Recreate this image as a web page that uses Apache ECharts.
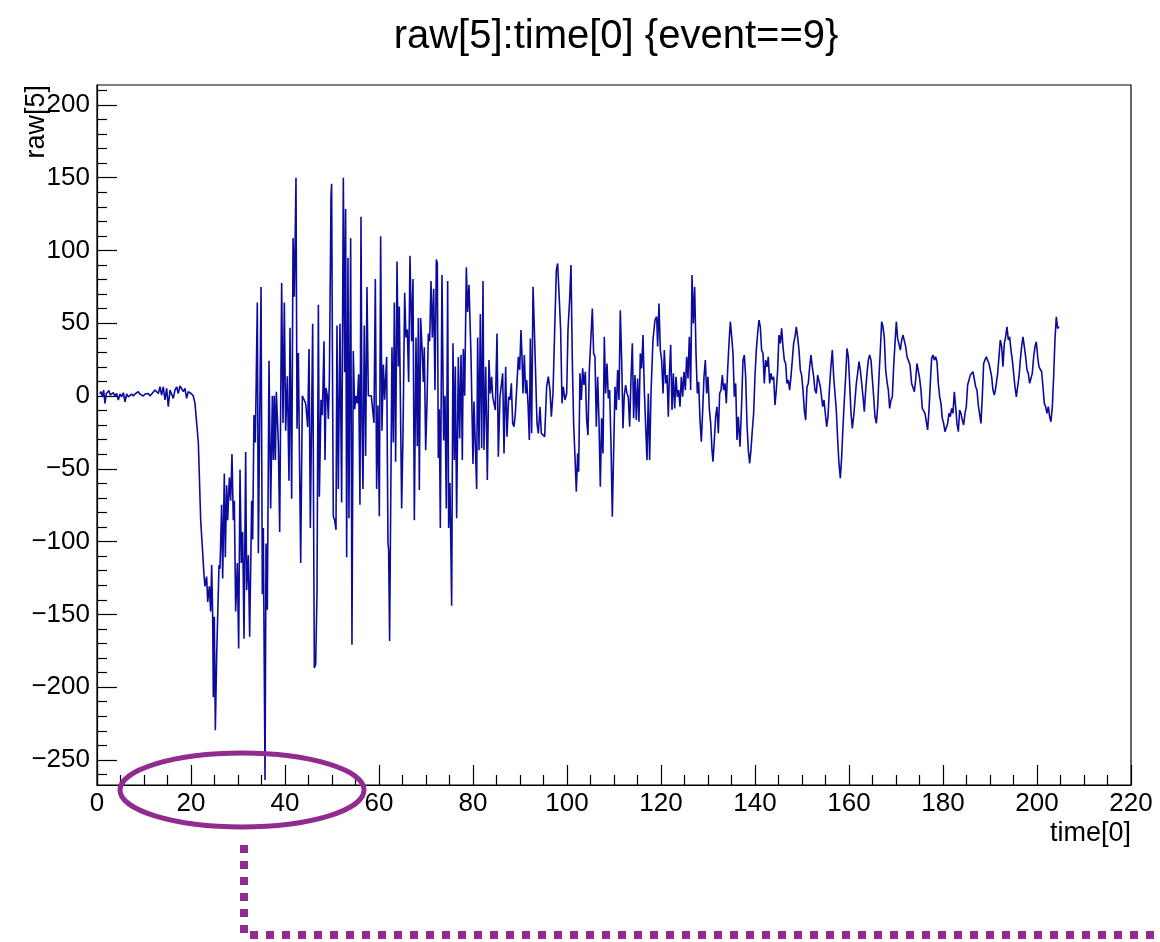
<!DOCTYPE html>
<html>
<head>
<meta charset="utf-8">
<title>raw[5]:time[0] {event==9}</title>
<script src="https://cdn.jsdelivr.net/npm/echarts@6.0.0/dist/echarts.min.js"></script>
<style>
  html, body { margin: 0; padding: 0; background: #fff; }
  #chart { width: 1160px; height: 942px; }
</style>
</head>
<body>
<div id="chart"></div>
<script>
// samples, each one is [time[0], raw[5]]
const preTrigger = [
  [0.6, 1.5], [0.85, 3.0], [1.13, -0.5], [1.41, 4.1], [1.7, -5], [1.98, 1.8], [2.27, 0.7], [2.55, 3.7],
  [2.83, 0.7], [3.12, 1.8], [3.47, 2.3], [3.83, 0], [4.18, 1.8], [4.54, -2.7], [4.89, 1.4], [5.24, -0.5],
  [5.6, 2.3], [5.95, -3.9], [6.31, 1.4], [6.66, -0.5], [7.02, 0.7], [7.37, 1.4], [7.73, 0], [8.08, 1.4],
  [8.44, 2.3], [8.79, 3.0], [9.14, 1.4], [9.5, 2.3], [9.85, 0], [10.21, 1.4], [10.56, 0.7], [10.92, 1.8],
  [11.27, 0], [11.63, 1.4], [11.98, 2.3], [12.34, 4.1], [12.69, 5.3], [13.05, 1.8], [13.4, 6.4], [13.75, 0.7],
  [14.11, 6.4], [14.46, -2.7], [14.82, 5.3], [15.17, -7.3], [15.53, 4.1], [15.88, 5.3], [16.24, -1.6], [16.59, 4.1],
  [16.95, 6.4], [17.3, 1.8], [17.66, 6.9], [18.01, 6.4], [18.37, 3.0], [18.72, 5.3], [19.07, -1.6], [19.43, 3.0],
  [19.78, 1.8], [20.14, 1.4], [20.49, 0], [20.85, -5]
];

const leadingEdge = [
  [21.56, -31.9], [22.06, -85.3], [22.77, -122.7], [22.98, -130.7], [23.33, -124], [23.55, -141.4], [23.9, -130.7],
  [24.18, -148], [24.4, -116], [24.61, -150.8], [24.75, -206.9], [24.96, -151.6], [25.18, -229.6], [25.46, -178.8],
  [25.96, -116], [26.17, -118.7], [26.52, -74.6], [26.74, -125.4], [27.09, -53.2], [27.3, -110.7], [27.59, -61.3],
  [27.8, -85.3], [28.16, -55.9], [28.44, -71.9], [28.72, -39.9], [29.0, -85.3], [29.22, -71.9], [29.5, -148],
  [29.86, -114.7], [30.14, -173.4], [30.43, -50.5], [30.71, -114.7], [30.99, -93.3], [31.28, -166.8], [31.63, -38.5],
  [31.84, -133.4], [32.2, -109.3], [32.48, -165.4], [32.91, -71.9], [33.12, -98.6], [33.4, -13.1], [33.69, -31.9],
  [34.11, 64.3], [34.33, -108]
];

const burst = [
  [34.9, 75.0], [35.18, -136.1], [35.39, -90.7], [35.75, -263.8], [35.96, -101.3], [36.24, -146.8], [36.6, 24.3],
  [36.95, -77.3], [37.31, 0.2], [37.52, -43.9], [37.73, 0.2], [37.95, -43.9], [38.16, 2.9], [38.58, -31.9],
  [38.87, -93.3], [39.29, 77.7], [39.58, -18.5], [39.86, 64.3], [40.14, -23.8], [40.5, 13.6], [40.85, -58.2],
  [41.07, 47], [41.42, -70.6], [41.71, 108.5], [41.99, 68.3], [42.34, 149.9], [42.56, -22.5], [42.84, 29.6],
  [43.34, -114.7], [43.69, 0.2], [44.05, 0.2], [44.4, -5.1], [44.83, -21.2], [45.11, 32.3], [45.39, -90.7],
  [45.89, 49.7], [46.24, -186.8], [46.53, -184.2], [46.81, -134.7], [47.1, 62.8], [47.31, -69.2], [47.66, -2.5],
  [47.95, -13.1], [48.3, 37.6], [48.51, -43.9], [48.73, 5.6], [49.01, 0.2], [49.22, -15.8], [49.44, 10.9],
  [49.79, 137.8], [49.92, 145.9], [50.14, -5.1], [50.28, -82.5], [50.56, -85.3], [50.85, -91.9], [51.06, 48.4],
  [51.34, -63.9], [51.7, 49.7], [52.05, -73.2], [52.41, 150], [52.69, 16.3], [52.9, 128.5], [53.12, -110.7],
  [53.4, 95.1], [53.61, -84], [53.97, 108.5], [54.25, -170.8], [54.53, 30.9], [54.82, -9.1], [55.1, 0.2],
  [55.39, -5.1], [55.67, 14.9], [55.95, -74.6], [56.17, 123.1], [56.38, -18.5], [56.59, -63.9], [56.87, 48.4],
  [57.16, -41.2], [57.44, 75], [57.73, 0.2], [58.08, 0.2], [58.36, 0.2], [58.65, 0.2], [58.93, -18.5],
  [59.22, 80.4], [59.5, -63.9], [59.78, -6.5], [60.07, -82.5], [60.35, 109.8], [60.63, -23.8], [60.92, 21.6],
  [61.2, -2.5], [61.63, 26.9], [61.91, -101.3], [62.05, -105.4], [62.26, -168.2], [62.55, -169.5], [62.76, 33.6],
  [63.04, -31.9], [63.26, 64.3], [63.54, -45.2], [63.83, 92.5], [64.11, 20.3], [64.32, 61.5], [64.61, -18.5],
  [64.82, -77.3], [65.1, -27.8], [65.46, 71], [65.74, 40.3], [66.02, 45.7], [66.31, 9.6], [66.59, 96.4],
  [66.95, 37.6], [67.23, 80.4], [67.52, -85.3], [67.87, 40.3], [68.15, -34.5], [68.37, 53.6], [68.58, -64.6],
  [68.86, 53.6], [69.15, 33.6], [69.43, 9.6], [69.64, 33.6], [69.93, -37.2], [70.21, -5.1], [70.5, 43],
  [70.78, 37.6], [71.06, 79], [71.35, 40.3], [71.63, 73.7], [71.91, 4.2], [72.2, 93.8], [72.41, 91.1],
  [72.62, -42.6], [72.83, -9.1], [73.05, -90.7], [73.4, 83.1], [73.76, -30.5], [74.04, 0.2], [74.32, -77.3],
  [74.61, 79], [74.82, -90.7], [75.1, -59.8], [75.46, -144.1], [75.74, 36.3], [76.03, -43.9], [76.24, 20.3],
  [76.52, -84], [76.88, 26.9], [77.16, -29.2], [77.45, 28.3], [77.73, -43.9], [77.94, 32.3], [78.23, 0.2],
  [78.58, 88.4], [78.86, 57.7], [79.15, 76.4], [79.57, 28.3], [80.0, -46.6], [80.21, -3.8], [80.57, -2.5],
  [80.78, -63.9], [80.99, 40.3], [81.28, -37.2], [81.56, 56.3], [81.84, -35.9], [82.13, 79]
];

const settling = [
  [82.34, -37.1], [82.7, 20.1], [83.05, -57.7], [83.4, 24.7], [83.69, 1.8], [83.97, 13.3], [84.19, -0.5],
  [84.47, 0.7], [84.75, -9.6], [85.11, 43], [85.39, -41.7], [85.74, -0.5], [85.96, 0.7], [86.31, 15.6],
  [86.6, -39.4], [86.95, 20.1], [87.23, -27.9], [87.59, -0.5], [87.87, -2.7], [88.16, 8.7], [88.44, -18.8],
  [88.72, -21.1], [89.01, -11.9], [89.29, -11.9], [89.65, 27], [89.93, 17.9], [90.21, 45.3], [90.43, 27],
  [90.64, 1.8], [90.92, 28.2], [91.21, 1.8], [91.42, 11], [91.7, -5], [91.99, -30.2], [92.2, 39.6],
  [92.48, -25.6], [92.77, 75.1], [93.05, 46.5], [93.33, 46.5], [93.62, -18.8], [93.9, -25.6], [94.26, -7.3],
  [94.54, -25.6], [94.89, -24.5], [95.25, -27.9], [95.67, 6.4], [96.03, 13.3], [96.38, 4.1], [96.67, -14.2],
  [97.02, 1.8], [97.38, 45.3], [97.73, 86.5], [98.01, 91.1], [98.37, 65.9], [98.65, 45.3], [98.94, -5],
  [99.22, 6.4], [99.57, -2.7], [99.93, 1.8], [100.21, 45.3], [100.56, 65.9], [100.85, 90], [101.13, 24.7],
  [101.41, -18.8], [101.7, -41.7], [101.98, -65.7], [102.27, -39.4], [102.48, -52], [102.76, 15.6], [103.05, -2.7],
  [103.33, 19], [103.61, 7.6], [103.9, 16.7], [104.18, -16.5], [104.46, -26.8], [104.75, 17.9], [105.03, 19],
  [105.39, 60.2], [105.67, 29.3], [105.95, 27], [106.24, -21.1], [106.52, 13.3], [106.8, -16.5], [107.09, -62.3],
  [107.37, -15.3], [107.66, -39.4], [107.94, 40.7], [108.22, 1.8], [108.51, 22.4], [108.79, -1.6], [109.07, 4.1],
  [109.36, -32.5], [109.64, -82.9], [109.92, -82.9], [110.21, 6.4], [110.49, -9.6], [110.78, 17.9], [111.06, -2.7],
  [111.34, 59], [111.63, 24.7], [111.91, -22.2], [112.19, 0.7], [112.48, 7.6], [112.76, 1.8], [113.04, -0.5],
  [113.33, -21.1], [113.61, 11], [113.9, 36.2], [114.18, -15.3], [114.46, 14.4], [114.75, -16.5], [115.03, 12.1],
  [115.31, -17.6], [115.6, 29.3], [115.88, 19], [116.17, 41.9], [116.45, 4.1], [116.73, 3], [117.02, -44],
  [117.3, 1.8], [117.58, -44], [117.87, 1.8], [118.29, 38.5], [118.72, 52.2], [119.08, 54.5], [119.29, 34],
  [119.57, 63.6], [119.86, 31.6], [120.14, 24.7], [120.43, 1.8], [120.71, 31.6], [120.99, 8.7], [121.28, 14.4],
  [121.56, -14.2], [121.77, 13.3], [122.06, 35.2], [122.34, -9.6], [122.62, 15.6], [122.91, -8.5], [123.19, 13.3],
  [123.48, -0.5], [123.76, 4.1], [124.04, -7.3], [124.33, 13.3], [124.61, -0.5], [124.89, 16.7], [125.18, 4.1],
  [125.46, 27], [125.74, 12.1], [126.03, 40.7], [126.31, 4.1], [126.6, 83.1], [126.88, 49.9], [127.16, 75.1],
  [127.45, 29.3], [127.73, 1.8], [128.01, 9.8], [128.3, -16.5], [128.58, -31.4], [128.87, -9.6], [129.15, 13.3],
  [129.43, 24.7], [129.72, 1.8], [130.0, 13.3], [130.28, -8.5], [130.57, -18.8], [130.85, -37.1], [131.06, -45.1],
  [131.35, -30.2], [131.63, -14.2], [131.91, -7.3], [132.2, -25.6], [132.48, 1.8], [132.77, 4.1], [133.05, 14.4],
  [133.33, 4.1], [133.62, 8.7], [133.9, -5], [134.18, 17.9], [134.47, 36.2], [134.75, 51.1], [135.04, 40.7],
  [135.32, 29.3], [135.6, -0.5], [135.89, 8.7], [136.17, -30.2], [136.45, -14.2], [136.81, -34.8]
];

const tail = [
  [137.16, -5], [137.44, 24.7], [137.73, 28.2], [138.01, 13.3], [138.29, -18.8], [138.58, -37.1], [138.86, -46.2],
  [139.14, -37.1], [139.43, -23.3], [139.71, -11.9], [139.99, 13.3], [140.28, 31.6], [140.56, 43], [140.85, 52.2],
  [141.13, 47.6], [141.41, 31.6], [141.7, 29.3], [141.98, 8.7], [142.26, 24.7], [142.55, 20.1], [142.83, 27],
  [143.12, 8.7], [143.4, 15.6], [143.68, 11], [143.97, 13.3], [144.25, -6.2], [144.53, 4.1], [144.82, 17.9],
  [145.1, 41.9], [145.39, 36.2], [145.67, 46.5], [145.95, 34], [146.24, 24.7], [146.52, 22.4], [146.8, 8.7],
  [147.09, 11], [147.37, 4.1], [147.65, 13.3], [147.94, 24.7], [148.22, 36.2], [148.51, 40.7], [148.79, 47.6],
  [149.07, 40.7], [149.36, 31.6], [149.64, 17.9], [149.92, 14.4], [150.21, 4.1], [150.49, -9.6], [150.78, -16.5],
  [151.06, 6.4], [151.34, 8.7], [151.63, 20.1], [151.91, 28.2], [152.19, 20.1], [152.48, 13.3], [152.76, 4.1],
  [153.05, 1.8], [153.33, 14.4], [153.61, 13.3], [153.9, 6.4], [154.4, -7.3], [154.68, -2.7], [154.96, -1.6],
  [155.25, -21.1], [155.53, -14.2], [155.82, 4.1], [156.1, 17.9], [156.45, 31.6], [156.74, 13.3], [157.02, 14.4],
  [157.3, -9.6], [157.59, -30.2], [157.87, -46.2], [158.16, -56.5], [158.44, -41.7], [158.72, -21.1], [159.01, -2.7],
  [159.29, 13.3], [159.57, 32.7], [159.86, 27], [160.14, 8.7], [160.43, -11.9], [160.71, -22.2], [160.99, -14.2],
  [161.28, -2.7], [161.56, 8.7], [161.84, 15.6], [162.13, 23.6], [162.41, 17.9], [162.7, 8.7], [162.98, -0.5],
  [163.26, -10.7], [163.55, 4.1], [163.83, 15.6], [164.11, 24.7], [164.4, 28.2], [164.68, 24.7], [164.96, 12.1],
  [165.25, -0.5], [165.53, -14.2], [165.82, -18.8], [166.1, -7.3], [166.38, 13.3], [166.67, 31.6], [166.95, 51.1],
  [167.23, 47.6], [167.52, 39.6], [167.8, 17.9], [168.09, 9.8], [168.37, 4.1], [168.65, -8.5], [168.94, -2.7],
  [169.22, -0.5], [169.5, 20.1], [169.79, 36.2], [170.07, 51.1], [170.35, 39.6], [170.64, 40.7], [170.92, 31.6],
  [171.21, 38.5], [171.49, 41.9], [171.77, 40.7], [172.06, 34], [172.34, 27], [172.62, 24.7], [172.98, 21.3],
  [173.33, 8.7], [173.61, 7.6], [173.9, 3], [174.18, 11], [174.46, 22.4], [174.75, 22.4], [175.03, 12.1],
  [175.31, 4.1], [175.6, -8.5], [175.88, -9.6], [176.17, -11.9], [176.45, -17.6], [176.73, -23.3], [177.02, -9.6],
  [177.3, 8.7], [177.58, 25.9], [177.87, 28.2], [178.15, 24.7], [178.43, 27], [178.72, 23.6], [179.0, 8.7],
  [179.29, -0.5], [179.57, -5], [179.85, -15.3], [180.14, -18.8], [180.42, -24.5], [180.7, -25.6], [180.99, -18.8],
  [181.27, -11.9], [181.56, -14.2], [181.84, -8.5], [182.12, -11.9], [182.41, 3], [182.69, -7.3], [182.97, -18.8],
  [183.26, -24.5], [183.54, -9.6], [183.82, -11.9], [184.11, -16.5], [184.39, -19.9], [184.68, -11.9], [184.96, -7.3],
  [185.24, 7.6], [185.53, 8.7], [185.81, 14.4], [186.09, 13.3], [186.38, 16.7], [186.66, 17.9], [186.95, 6.4],
  [187.23, 4.1], [187.51, -6.2], [187.8, -5], [188.08, -18.8], [188.36, -0.5], [188.65, 22.4], [188.93, 24.7],
  [189.21, 27], [189.5, 25.9], [189.78, 22.4], [190.07, 17.9], [190.35, 13.3], [190.63, 4.1], [190.92, 0.7],
  [191.2, 5.3], [191.63, 15.6], [191.91, 27], [192.19, 38.5], [192.48, 34], [192.76, 20.1], [193.05, 36.2],
  [193.33, 40.7], [193.61, 47.6], [193.9, 38.5], [194.18, 40.7], [194.46, 31.6], [194.75, 24.7], [195.03, 15.6],
  [195.31, 6.4], [195.6, -0.5], [195.88, 0.7], [196.17, 13.3], [196.45, 24.7], [196.73, 34], [197.02, 40.7],
  [197.3, 34], [197.58, 27], [197.87, 17.9], [198.15, 15.6], [198.44, 8.7], [198.72, 9.8], [199.0, 15.6],
  [199.29, 27], [199.57, 34], [199.85, 37.3], [200.14, 27], [200.42, 20.1], [200.71, 20.1], [200.99, 16.7],
  [201.27, 6.4], [201.56, -5], [201.84, -7.3], [202.12, -11.9], [202.41, -7.3], [202.69, -14.2], [202.97, -17.6],
  [203.26, -7.3], [203.54, 13.3], [203.82, 38.5], [204.11, 54.5], [204.39, 46.5], [204.68, 47.6]
];

// axis ticks
const xMajorTicks = [0, 20, 40, 60, 80, 100, 120, 140, 160, 180, 200, 220];
const yMajorTicks = [-250, -200, -150, -100, -50, 0, 50, 100, 150, 200];
const yRange = [-267.2, 213.7];

const FONT = '"Liberation Sans", Helvetica, Arial, sans-serif';
const PURPLE = '#912b8f';

// minor ticks every 10 on y (ROOT 510 divisions)
const yMinorTicks = [];
for (let v = -260; v <= 210; v += 10) {
  if (v % 50 !== 0) yMinorTicks.push(v);
}

const trace = preTrigger.concat(leadingEdge, burst, settling, tail);

const fmt = v => String(v).replace('-', '\u2212');

const chart = echarts.init(document.getElementById('chart'), null, { renderer: 'canvas' });

const option = {
  animation: false,
  backgroundColor: '#fff',
  textStyle: { fontFamily: FONT },
  grid: {
    left: 97,
    right: 29,
    top: 85,
    bottom: 157,
    show: true,
    borderColor: '#000',
    borderWidth: 1.2,
    backgroundColor: 'transparent'
  },
  xAxis: [
    {
      type: 'value',
      min: xMajorTicks[0],
      max: xMajorTicks[xMajorTicks.length - 1],
      interval: 20,
      axisLine: { onZero: false, lineStyle: { color: '#000', width: 1.2 } },
      axisTick: { inside: true, length: 20, lineStyle: { color: '#000', width: 1.2 } },
      minorTick: { show: true, splitNumber: 4, length: 10, lineStyle: { color: '#000', width: 1.2 } },
      axisLabel: { color: '#000', fontSize: 26, margin: 6, fontFamily: FONT, formatter: fmt },
      splitLine: { show: false }
    }
  ],
  yAxis: [
    {
      type: 'value',
      min: yRange[0],
      max: yRange[1],
      axisLine: { onZero: false, lineStyle: { color: '#000', width: 1.2 } },
      axisTick: { inside: true, length: 20, customValues: yMajorTicks, lineStyle: { color: '#000', width: 1.2 } },
      axisLabel: { color: '#000', fontSize: 26, margin: 7, fontFamily: FONT, customValues: yMajorTicks, formatter: fmt },
      splitLine: { show: false }
    },
    {
      type: 'value',
      min: yRange[0],
      max: yRange[1],
      position: 'left',
      axisLine: { show: false, onZero: false },
      axisTick: { inside: true, length: 10, customValues: yMinorTicks, lineStyle: { color: '#000', width: 1.2 } },
      axisLabel: { show: false },
      splitLine: { show: false }
    }
  ],
  series: [
    {
      name: 'raw[5]',
      type: 'line',
      data: trace,
      xAxisIndex: 0,
      yAxisIndex: 0,
      showSymbol: false,
      symbol: 'none',
      lineStyle: { color: '#0b0b9e', width: 1.6 },
      clip: true
    }
  ],
  graphic: [
    {
      type: 'text',
      x: 616,
      y: 37,
      style: {
        text: 'raw[5]:time[0] {event==9}',
        align: 'center',
        verticalAlign: 'middle',
        fill: '#000',
        font: '40px ' + FONT
      }
    },
    {
      type: 'text',
      x: 1131,
      y: 834,
      style: {
        text: 'time[0]',
        align: 'right',
        verticalAlign: 'middle',
        fill: '#000',
        font: '27px ' + FONT
      }
    },
    {
      type: 'text',
      x: 37,
      y: 85,
      rotation: Math.PI / 2,
      style: {
        text: 'raw[5]',
        align: 'right',
        verticalAlign: 'middle',
        fill: '#000',
        font: '27px ' + FONT
      }
    },
    {
      type: 'ellipse',
      shape: { cx: 242, cy: 790, rx: 122, ry: 37 },
      style: { fill: 'none', stroke: PURPLE, lineWidth: 5 },
      z: 100
    },
    {
      type: 'polyline',
      shape: { points: [[244, 845], [244, 935], [1160, 935]] },
      style: { fill: 'none', stroke: PURPLE, lineWidth: 8, lineDash: [8, 8] },
      z: 100
    }
  ]
};

chart.setOption(option);
</script>
</body>
</html>
